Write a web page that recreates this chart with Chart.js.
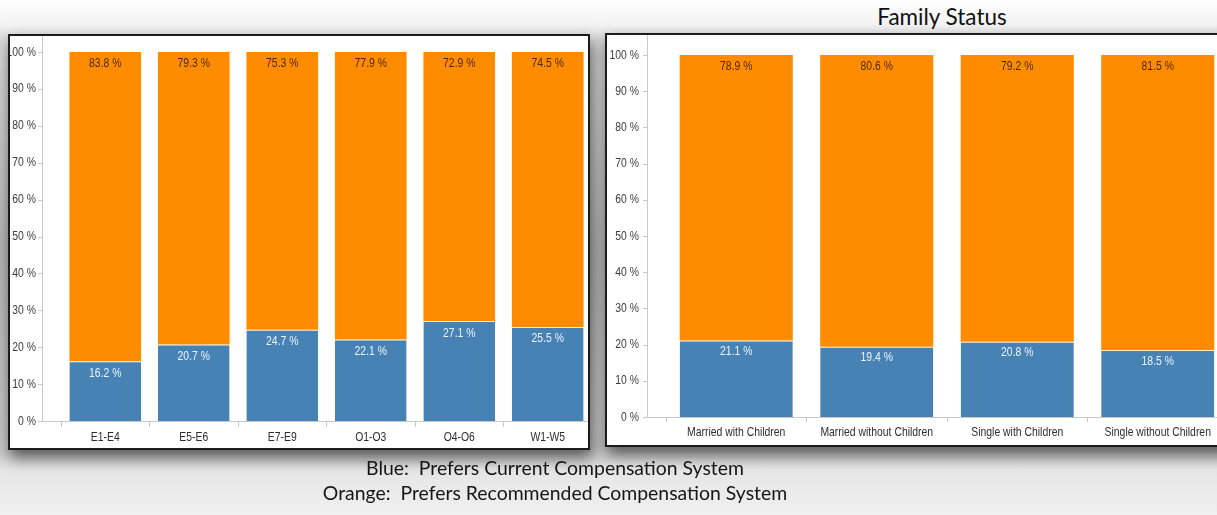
<!DOCTYPE html>
<html>
<head>
<meta charset="utf-8">
<script src="https://cdn.jsdelivr.net/npm/chart.js@4.4.1/dist/chart.umd.min.js"></script>
<style>
  html, body { margin:0; padding:0; width:1217px; height:515px; overflow:hidden; }
  body {
    position:relative;
    background: linear-gradient(to bottom, #ffffff 0px, #f2f2f2 25px, #d8d8d8 40px, #b5b5b5 250px, #c8c8c8 450px, #e6e6e6 470px, #f0f0f0 515px);
    font-family: "Liberation Sans", Arial, sans-serif;
  }
  .panel {
    position:absolute; box-sizing:border-box; border:2px solid #1c1c1c; background:#fff; overflow:hidden;
    box-shadow: 2px 8px 14px rgba(0,0,0,0.55);
  }
  #p1 { left:8px; top:34px; width:582px; height:416px; }
  #p2 { left:605px; top:33px; width:640px; height:414px; }
  .panel canvas { position:absolute; left:0; top:0; }
  #title { position:absolute; left:942px; top:6px; transform:translateX(-50%); font-family:Lato, "Open Sans", sans-serif; font-size:22.5px; line-height:22px; color:#111; white-space:pre; }
  #legend { position:absolute; left:555px; top:455px; transform:translateX(-50%); font-family:Lato, "Open Sans", sans-serif; font-size:19.4px; color:#151515; text-align:center; white-space:pre; line-height:25px; }
</style>
</head>
<body>
<div id="title">Family Status</div>
<div class="panel" id="p1"><canvas id="c1" width="600" height="412"></canvas></div>
<div class="panel" id="p2"><canvas id="c2" width="640" height="410"></canvas></div>
<div id="legend">Blue:  Prefers Current Compensation System
Orange:  Prefers Recommended Compensation System</div>
<script>
// ---- data ----
const payGradeLabels = ['E1-E4', 'E5-E6', 'E7-E9', 'O1-O3', 'O4-O6', 'W1-W5'];
const payGradeCurrent = [16.2, 20.7, 24.7, 22.1, 27.1, 25.5];
const payGradeRecommended = [83.8, 79.3, 75.3, 77.9, 72.9, 74.5];

const familyLabels = ['Married with Children', 'Married without Children', 'Single with Children', 'Single without Children'];
const familyCurrent = [21.1, 19.4, 20.8, 18.5];
const familyRecommended = [78.9, 80.6, 79.2, 81.5];

// ---- style ----
const BLUE = '#4682B4';
const ORANGE = '#FF8C00';
const TXT_FONT = '13px "Liberation Sans", Arial, sans-serif';
const SQUEEZE = 0.8;
const AXIS_GRAY = '#c8c8c8';

function narrowText(ctx, text, x, y, align, color) {
  ctx.save();
  ctx.translate(x, y);
  ctx.scale(SQUEEZE, 1);
  ctx.font = TXT_FONT;
  ctx.textAlign = align;
  ctx.textBaseline = 'middle';
  ctx.fillStyle = color;
  ctx.fillText(text, 0, 0);
  ctx.restore();
}

const decoPlugin = {
  id: 'deco',
  afterDatasetsDraw(chart, args, opts) {
    const ctx = chart.ctx;
    const ca = chart.chartArea;
    const y = chart.scales.y;
    const x = chart.scales.x;
    ctx.save();
    // y axis line and tick marks
    ctx.strokeStyle = AXIS_GRAY;
    ctx.lineWidth = 1;
    ctx.beginPath();
    ctx.moveTo(opts.lineX + 0.5, 0);
    ctx.lineTo(opts.lineX + 0.5, ca.bottom + 1);
    y.ticks.forEach(t => {
      const py = Math.round(y.getPixelForValue(t.value)) + 0.5;
      ctx.moveTo(opts.lineX - 4, py);
      ctx.lineTo(opts.lineX, py);
    });
    ctx.moveTo(opts.lineX - 3, Math.round(ca.bottom) + 0.5);
    ctx.lineTo(ca.left, Math.round(ca.bottom) + 0.5);
    ctx.stroke();
    ctx.restore();

    // y tick labels
    y.ticks.forEach(t => {
      narrowText(ctx, t.value + ' %', opts.yLabelRight, y.getPixelForValue(t.value), 'right', '#3c3c3c');
    });
    // x category labels
    chart.data.labels.forEach((lab, i) => {
      narrowText(ctx, lab, x.getPixelForValue(i), ca.bottom + opts.xLabelOff, 'center', '#2e2e2e');
    });
    // value labels
    chart.data.datasets.forEach((ds, di) => {
      const meta = chart.getDatasetMeta(di);
      meta.data.forEach((el, i) => {
        const v = ds.data[i];
        narrowText(ctx, v.toFixed(1) + ' %', el.x, el.y + (di === 0 ? opts.blueOff : opts.orangeOff),
                   'center', di === 0 ? '#eef4fa' : '#4a2a00');
      });
    });
  }
};

function makeChart(id, labels, cur, rec, cfg) {
  return new Chart(document.getElementById(id), {
    type: 'bar',
    data: {
      labels: labels,
      datasets: [
        { label: 'Prefers Current Compensation System', data: cur, backgroundColor: BLUE,
          borderColor: 'rgba(255,236,200,0.9)', borderWidth: { top: 1, left: 0, right: 0, bottom: 0 }, borderSkipped: false },
        { label: 'Prefers Recommended Compensation System', data: rec, backgroundColor: ORANGE, borderWidth: 0 }
      ]
    },
    options: {
      responsive: false,
      animation: false,
      devicePixelRatio: 1,
      events: [],
      layout: { autoPadding: false, padding: { left: 0, right: cfg.padRight, top: cfg.padTop, bottom: 0 } },
      datasets: { bar: { categoryPercentage: 1, barPercentage: cfg.barPct } },
      plugins: {
        legend: { display: false },
        tooltip: { enabled: false },
        deco: { lineX: cfg.lineX, blueOff: cfg.blueOff, orangeOff: cfg.orangeOff, yLabelRight: cfg.yLabelRight, xLabelOff: cfg.xLabelOff }
      },
      scales: {
        x: {
          stacked: true,
          grid: { display: true, offset: true, drawOnChartArea: false, drawTicks: true, tickLength: cfg.tickLen, color: AXIS_GRAY },
          border: { display: true, color: AXIS_GRAY },
          ticks: { display: false, autoSkip: false },
          afterFit(s) { s.height = cfg.xHeight; }
        },
        y: {
          stacked: true,
          min: 0, max: 100,
          grid: { display: false, drawTicks: false },
          border: { display: false },
          ticks: { display: false, stepSize: 10 },
          afterFit(s) { s.width = cfg.yWidth; }
        }
      }
    },
    plugins: [decoPlugin]
  });
}

makeChart('c1', payGradeLabels, payGradeCurrent, payGradeRecommended,
  { padRight: 18, padTop: 16, barPct: 0.81, tickLen: 6, xHeight: 27, yWidth: 51, lineX: 32, yLabelRight: 26, xLabelOff: 16, blueOff: 12, orangeOff: 11 });
makeChart('c2', familyLabels, familyCurrent, familyRecommended,
  { padRight: 19, padTop: 20, barPct: 0.805, tickLen: 5, xHeight: 28, yWidth: 59, lineX: 40, yLabelRight: 32, xLabelOff: 15, blueOff: 11, orangeOff: 11 });
</script>
</body>
</html>
